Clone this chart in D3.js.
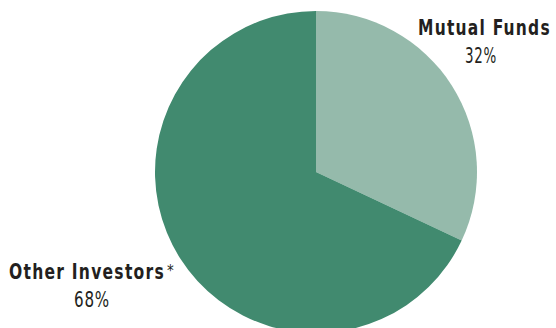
<!DOCTYPE html>
<html>
<head>
<meta charset="utf-8">
<script src="https://cdn.jsdelivr.net/npm/d3@7"></script>
<style>
  body { margin: 0; background: #fff; }
  text { font-family: "DejaVu Sans Condensed", "DejaVu Sans", sans-serif; fill: #231f20; }
</style>
</head>
<body>
<svg id="chart" width="556" height="328"></svg>
<script>
const categories = ["Mutual Funds", "Other Investors"];
const values = [32, 68];
const valueLabels = ["32%", "68%"];
const footnoteMarks = ["", "*"];
const colors = ["#95baab", "#418a6f"];

const svg = d3.select("#chart");
const cx = 316, cy = 172, radius = 161;

const pie = d3.pie().sort(null).value(d => d)(values);
const arc = d3.arc().innerRadius(0).outerRadius(radius);

const g = svg.append("g").attr("transform", "translate(" + cx + "," + cy + ")");
g.selectAll("path.slice")
  .data(pie)
  .enter()
  .append("path")
  .attr("class", "slice")
  .attr("d", arc)
  .style("fill", (d, i) => colors[i]);

// label layout, picked by hand to sit beside the pie (font is a stand-in for a condensed face)
const nameBox = [{x: 418, y: 35, w: 133}, {x: 9, y: 279, w: 156}];
const valBox = [{x: 465, y: 63, w: 32}, {x: 74, y: 307, w: 36}];

// squeeze each text sideways so it fills its box, like the narrow face in the original
function fitWidth(sel, boxes) {
  sel.each(function(d, i) {
    const t = d3.select(this);
    const w = this.getComputedTextLength();
    const sx = boxes[i].w / w;
    t.attr("transform", "translate(" + boxes[i].x + "," + boxes[i].y + ") scale(" + sx + ",1)");
  });
}

const names = svg.selectAll("text.name")
  .data(categories)
  .enter()
  .append("text")
  .attr("class", "name")
  .style("font-size", "21px")
  .style("font-weight", "bold")
  .style("letter-spacing", "1.5px")
  .text(d => d);
fitWidth(names, nameBox);

svg.selectAll("text.mark")
  .data(footnoteMarks)
  .enter()
  .append("text")
  .attr("class", "mark")
  .attr("x", (d, i) => nameBox[i].x + nameBox[i].w + 2)
  .attr("y", (d, i) => nameBox[i].y - 3)
  .style("font-size", "15px")
  .text(d => d);

const vals = svg.selectAll("text.val")
  .data(valueLabels)
  .enter()
  .append("text")
  .attr("class", "val")
  .style("font-size", "21px")
  .style("letter-spacing", "1px")
  .text(d => d);
fitWidth(vals, valBox);
</script>
</body>
</html>
